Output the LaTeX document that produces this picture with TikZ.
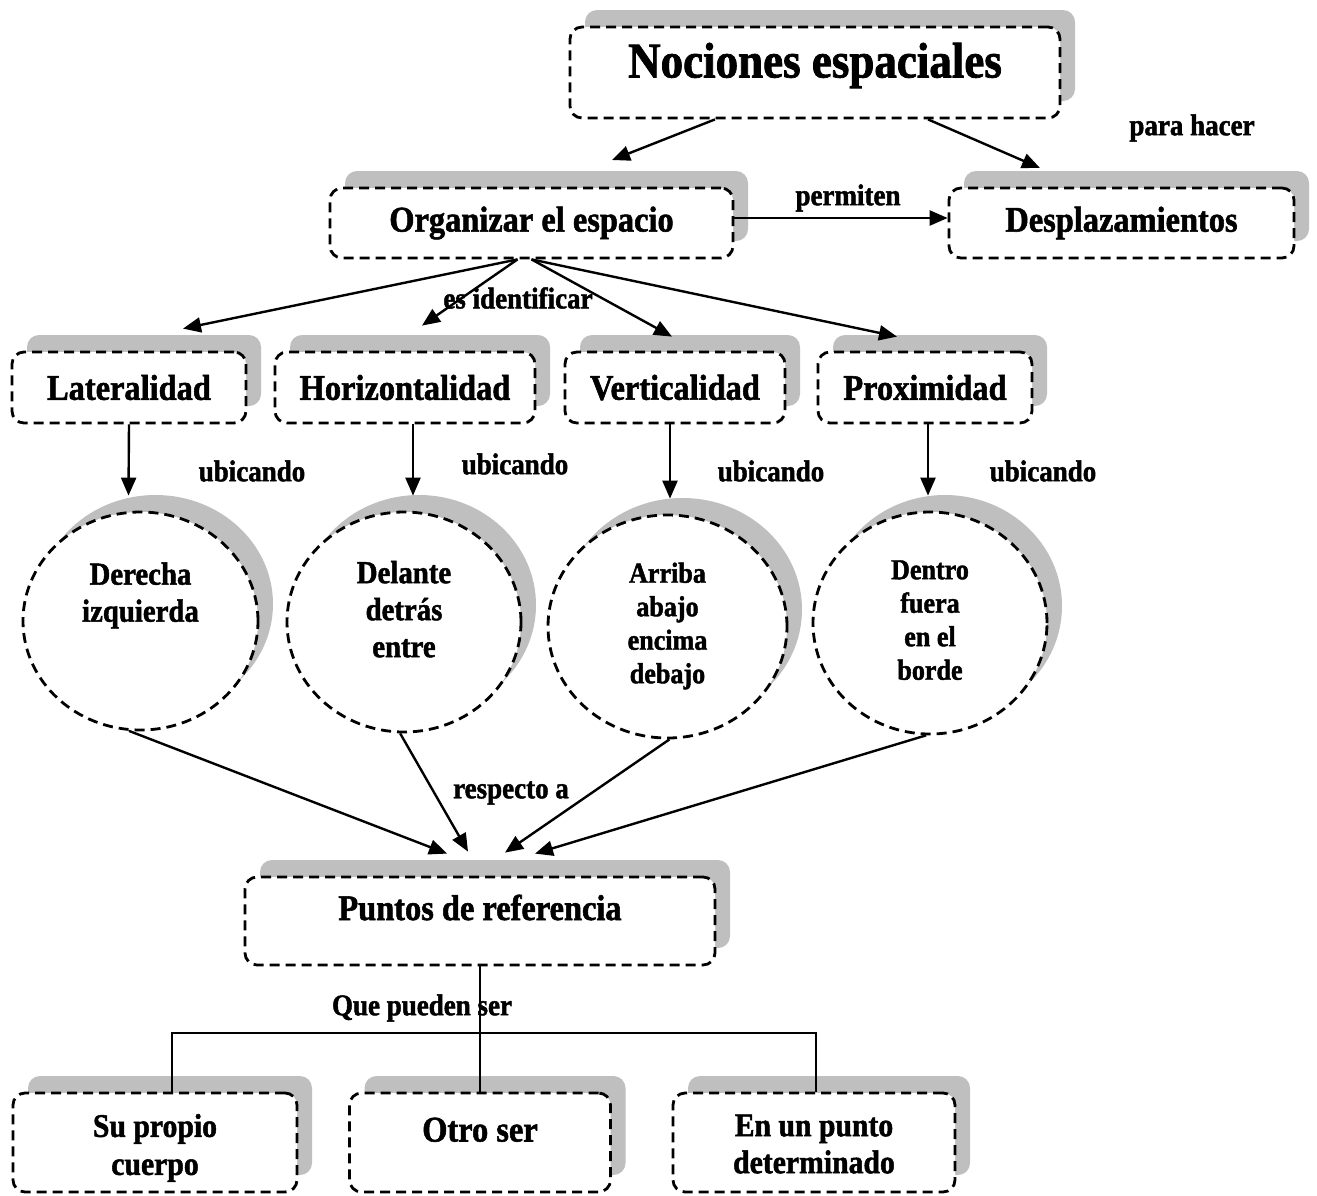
\documentclass[tikz,border=0pt]{standalone}
\usepackage{fontspec}
\setmainfont{Liberation Serif}[FakeStretch=0.9,BoldFeatures={FakeBold=1.5}]
\usepackage{tikz}
\usetikzlibrary{arrows.meta,positioning,calc,shapes.geometric,shadows}

\newcommand{\raisedlines}[2]{\raisebox{#1}[0pt][0pt]{\begin{tabular}{@{}c@{}}#2\end{tabular}}}

\begin{document}
\begin{tikzpicture}[x=1pt,y=-1pt,
    conceptbox/.style={draw,line width=2.8pt,dash pattern=on 10pt off 6pt,rounded corners=12pt,fill=white,
        drop shadow={shadow xshift=15pt,shadow yshift=17pt,fill=gray!50,opacity=1},
        inner sep=0pt,align=center,font=\bfseries\fontsize{36}{40}\selectfont},
    conceptcirc/.style={conceptbox,ellipse,sharp corners,font=\bfseries\fontsize{32}{37}\selectfont},
    linktext/.style={font=\bfseries\fontsize{30}{34}\selectfont,inner sep=0pt},
    link/.style={line width=2.4pt,-{Triangle[length=18pt,width=15pt]}},
    branch/.style={line width=1.8pt}]
    \useasboundingbox (0,0) rectangle (1317,1195);

    % main concept
    \node[conceptbox,minimum width=490pt,minimum height=91pt,font=\bfseries\fontsize{50}{56}\selectfont]
        (noc) at (815,72.5) {\raisebox{-5pt}[0pt][0pt]{Nociones espaciales}};
    \node[conceptbox,minimum width=403pt,minimum height=70pt] (org) at (531.5,223) {Organizar el espacio};
    \node[conceptbox,minimum width=345pt,minimum height=70pt] (des) at (1121.5,223) {Desplazamientos};

    % what is identified
    \node[conceptbox,minimum width=234pt,minimum height=71pt] (lat) at (129,387.5) {Lateralidad};
    \node[conceptbox,minimum width=260pt,minimum height=71pt] (hor) at (405,387.5) {Horizontalidad};
    \node[conceptbox,minimum width=220pt,minimum height=71pt] (ver) at (675,387.5) {Verticalidad};
    \node[conceptbox,minimum width=214pt,minimum height=71pt] (pro) at (925,387.5) {Proximidad};

    % positions
    \node[conceptcirc,minimum width=235pt,minimum height=218pt] (der) at (140.5,621)
        {\raisedlines{19pt}{Derecha\\izquierda}};
    \node[conceptcirc,minimum width=234pt,minimum height=220pt] (del) at (404,622)
        {\raisedlines{3pt}{Delante\\detrás\\entre}};
    \node[conceptcirc,minimum width=239pt,minimum height=223pt,font=\bfseries\fontsize{29}{33.5}\selectfont]
        (arr) at (667.5,626.5) {\raisedlines{-6pt}{Arriba\\abajo\\encima\\debajo}};
    \node[conceptcirc,minimum width=234pt,minimum height=222pt,font=\bfseries\fontsize{29}{33.5}\selectfont]
        (den) at (930,623) {\raisedlines{-6pt}{Dentro\\fuera\\en el\\borde}};

    % reference points
    \node[conceptbox,minimum width=470pt,minimum height=88pt] (pun) at (480,921)
        {\raisebox{1pt}[0pt][0pt]{Puntos de referencia}};
    \node[conceptbox,minimum width=284pt,minimum height=99pt,font=\bfseries\fontsize{33}{38}\selectfont]
        (cue) at (155,1142.5) {\raisedlines{-12pt}{Su propio\\cuerpo}};
    \node[conceptbox,minimum width=261pt,minimum height=99pt] (otr) at (480,1142.5)
        {\raisebox{1pt}[0pt][0pt]{Otro ser}};
    \node[conceptbox,minimum width=282pt,minimum height=99pt,font=\bfseries\fontsize{33}{37}\selectfont]
        (pto) at (814,1142.5) {\raisedlines{-11pt}{En un punto\\determinado}};

    % link words
    \node[linktext] (parahacer) at (1192,128) {para hacer};
    \node[linktext] (permiten) at (848,198) {permiten};
    \node[linktext] (esident) at (518,298) {es identificar};
    \node[linktext] (ubic1) at (252,471) {ubicando};
    \node[linktext] (ubic2) at (515,464) {ubicando};
    \node[linktext] (ubic3) at (771,471) {ubicando};
    \node[linktext] (ubic4) at (1043,471) {ubicando};
    \node[linktext] (respecto) at (511,793) {respecto a};
    \node[linktext] (quepueden) at (422,1008) {Que pueden ser};

    % arrows
    \coordinate (nocL) at (612,160);
    \coordinate (nocR) at (1040,168);
    \draw[link] ([xshift=-100pt]noc.south) -- (nocL);
    \draw[link] ([xshift=113pt]noc.south) -- (nocR);
    \draw[link] ([yshift=5pt]org.east) -- ([yshift=5pt]des.west);

    \draw[link] ([xshift=-14pt]org.south) -- ([shift={(54pt,22pt)}]lat.north);
    \draw[link] ([xshift=-14pt]org.south) -- ([shift={(17pt,25pt)}]hor.north);
    \draw[link] (org.south) -- ([shift={(-3pt,14pt)}]ver.north);
    \draw[link] (org.south) -- ([shift={(-28pt,14pt)}]pro.north);

    \draw[link] (lat.south) -- ([xshift=-12pt,yshift=15pt]der.north);
    \draw[link] ([xshift=8pt]hor.south) -- ([xshift=9pt,yshift=15pt]del.north);
    \draw[link] ([xshift=-5pt]ver.south) -- ([xshift=2.5pt,yshift=15pt]arr.north);
    \draw[link] ([xshift=3pt]pro.south) -- ([xshift=-2pt,yshift=15pt]den.north);

    \draw[link] (der.-96) -- ([shift={(-33pt,22pt)}]pun.north);
    \draw[link] (del.-92) -- ([shift={(-12pt,24pt)}]pun.north);
    \draw[link] (arr.-89) -- ([shift={(25pt,23pt)}]pun.north);
    \draw[link] (den.-92) -- ([shift={(55pt,22pt)}]pun.north);

    % tree
    \coordinate (fork) at (480,1033);
    \draw[branch] (pun.south) -- (otr.north);
    \draw[branch] ([xshift=17pt]cue.north) |- (fork) -| ([xshift=2pt]pto.north);
\end{tikzpicture}
\end{document}
